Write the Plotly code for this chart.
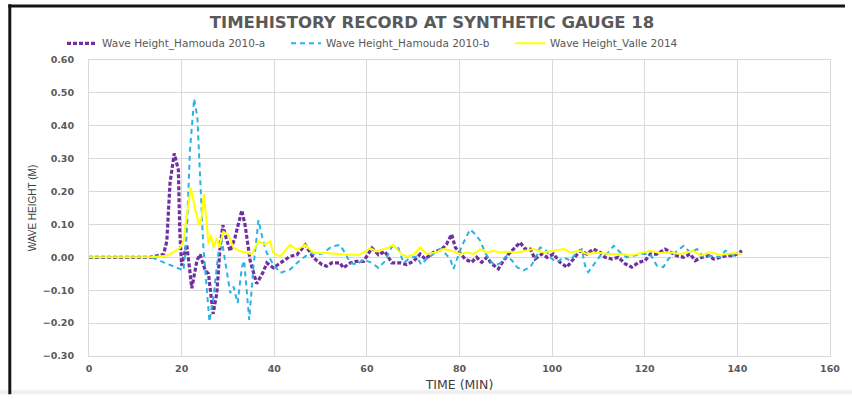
import plotly.graph_objects as go

# ---- data ----
time_a = [0, 13.2, 16.1, 16.8, 17.5, 18.4, 19.3, 19.6, 20.0, 21.1, 22.2, 23.3, 24.0, 25.1, 25.8, 26.8, 27.6, 28.3, 28.9, 29.6,
          30.5, 31.5, 33.0, 33.7, 34.8, 36.2, 37.6, 38.4, 39.8, 41.3, 43.4, 44.9, 46.7, 48.5, 50.3, 51.3, 52.4, 54.2, 54.9, 56.4,
          57.8, 59.3, 61.1, 62.5, 63.9, 65.4, 67.2, 68.6, 70.1, 71.5, 72.6, 74.4, 76.2, 77.2, 78.3, 79.1, 80.1, 81.2, 82.6, 83.7,
          84.8, 85.9, 87.0, 88.4, 89.5, 90.6, 92.0, 93.1, 94.2, 95.3, 96.3, 97.8, 98.9, 100.3, 101.7, 103.2, 104.6, 106.0, 107.5,
          108.9, 110.4, 111.4, 112.9, 114.3, 115.8, 117.2, 118.7, 120.1, 121.2, 122.6, 124.4, 125.5, 126.9, 128.4, 129.8, 130.9,
          132.3, 133.8, 134.9, 136.3, 137.7, 139.2, 141.0]
height_a = [0, 0, 0.009, 0.049, 0.227, 0.316, 0.266, 0.079, -0.025, 0.039, -0.094, -0.010, 0.009, -0.040, -0.050, -0.172,
            -0.109, 0.029, 0.098, 0.059, 0.019, 0.059, 0.143, 0.098, -0.010, -0.080, -0.045, -0.017, -0.032, -0.017, 0.003,
            0.008, 0.038, -0.002, -0.022, -0.027, -0.017, -0.017, -0.032, -0.017, -0.012, -0.012, 0.028, 0.008, 0.018, -0.017,
            -0.017, -0.022, -0.012, 0.010, -0.005, 0.015, 0.025, 0.040, 0.070, 0.030, 0.015, -0.005, -0.015, 0.000, -0.015,
            0.000, -0.020, -0.035, -0.010, 0.010, 0.030, 0.045, 0.025, 0.025, -0.005, 0.010, 0.000, 0.010, -0.015, -0.030,
            -0.005, 0.020, 0.010, 0.025, 0.015, 0.000, -0.005, 0.000, -0.020, -0.030, -0.015, -0.010, 0.010, 0.010, 0.025,
            0.015, 0.005, 0.000, 0.010, -0.010, 0.000, 0.005, -0.005, 0.000, 0.005, 0.005, 0.020]

time_b = [0, 13.5, 20.4, 21.1, 21.8, 22.7, 23.4, 24.0, 24.7, 25.4, 26.0, 26.9, 27.9, 28.6, 29.4, 30.5, 31.2, 32.1, 33.0, 33.5,
          34.1, 34.6, 35.5, 36.6, 37.6, 38.4, 39.8, 41.3, 43.4, 44.9, 46.7, 47.7, 49.2, 50.6, 52.4, 54.2, 55.3, 56.4, 57.8, 59.3,
          61.1, 62.5, 63.9, 65.4, 66.8, 67.9, 69.3, 70.8, 71.7, 72.9, 74.4, 75.8, 76.9, 78.0, 78.7, 79.4, 80.5, 82.3, 83.4, 84.5,
          85.5, 86.6, 87.7, 89.1, 90.2, 91.7, 92.4, 93.8, 95.3, 96.3, 97.4, 98.5, 99.6, 101.0, 102.5, 103.9, 105.3, 106.4, 107.1,
          107.8, 108.9, 110.4, 111.8, 113.3, 114.7, 116.1, 117.6, 119.0, 121.2, 122.6, 124.0, 125.1, 126.6, 128.4, 129.8, 131.3,
          132.7, 134.5, 136.3, 137.4, 138.5, 139.9]
height_b = [0, 0, -0.040, 0.069, 0.326, 0.482, 0.425, 0.227, 0.029, -0.090, -0.195, -0.119, 0.009, 0.059, -0.010, -0.109,
            -0.089, -0.139, -0.030, -0.010, -0.109, -0.190, -0.030, 0.113, 0.049, 0.013, -0.022, -0.047, -0.037, -0.017, 0.003,
            0.013, 0.008, 0.013, 0.033, 0.038, 0.013, -0.017, -0.022, -0.007, -0.017, -0.032, -0.012, 0.033, 0.028, -0.017,
            -0.002, 0.003, -0.022, -0.005, 0.010, 0.025, 0.012, -0.005, -0.035, -0.005, 0.035, 0.085, 0.070, 0.050, 0.015,
            -0.010, -0.025, -0.015, 0.005, -0.015, -0.030, -0.040, -0.030, -0.005, 0.030, 0.025, 0.000, -0.015, 0.000, -0.010,
            0.015, 0.025, -0.025, -0.045, -0.025, 0.005, 0.010, 0.035, 0.015, 0.000, 0.005, 0.010, 0.010, -0.025, -0.030,
            -0.005, 0.015, 0.035, 0.015, 0.025, 0.000, 0.005, 0.000, 0.020, 0.010, 0.000]

time_c = [0, 13.2, 16.8, 18.2, 19.7, 20.4, 21.1, 22.0, 22.9, 23.8, 24.3, 24.8, 25.4, 25.8, 26.3, 26.9, 27.6, 28.1, 29.0, 30.1,
          31.2, 32.6, 34.1, 35.1, 36.6, 38.0, 39.1, 39.8, 41.3, 43.4, 44.9, 46.7, 48.5, 51.3, 55.7, 58.5, 60.7, 62.1, 64.3, 65.7,
          67.2, 68.6, 70.1, 71.5, 72.9, 75.0, 76.5, 78.3, 80.1, 81.6, 83.0, 84.5, 85.9, 87.3, 88.8, 90.2, 92.4, 94.5, 96.0, 98.1,
          100.3, 102.5, 103.9, 106.0, 107.5, 109.6, 112.5, 115.4, 116.8, 119.0, 121.2, 123.3, 125.5, 127.7, 130.5, 132.0, 134.1,
          136.3, 139.2, 141.0]
height_c = [0, 0, 0.005, 0.015, 0.030, 0.049, 0.128, 0.212, 0.148, 0.098, 0.120, 0.192, 0.108, 0.040, 0.069, 0.029, 0.059,
            0.029, 0.078, 0.069, 0.029, 0.019, 0.014, 0.009, 0.049, 0.039, 0.049, 0.013, 0.003, 0.038, 0.023, 0.038, 0.013,
            0.013, 0.008, 0.008, 0.028, 0.018, 0.028, 0.038, 0.013, 0.003, 0.008, 0.030, 0.010, 0.015, 0.025, 0.020, 0.010,
            0.015, 0.010, 0.025, 0.015, 0.020, 0.015, 0.017, 0.015, 0.020, 0.025, 0.015, 0.020, 0.025, 0.015, 0.020, 0.010,
            0.015, 0.010, 0.010, 0.005, 0.013, 0.020, 0.013, 0.015, 0.010, 0.020, 0.005, 0.015, 0.007, 0.013, 0.010]

series_names = ["Wave Height_Hamouda 2010-a", "Wave Height_Hamouda 2010-b", "Wave Height_Valle 2014"]
title_text = "TIMEHISTORY RECORD AT SYNTHETIC GAUGE 18"
x_title = "TIME (MIN)"
y_title = "WAVE HEIGHT (M)"
x_ticks = [0, 20, 40, 60, 80, 100, 120, 140, 160]
y_ticks = [-0.3, -0.2, -0.1, 0.0, 0.1, 0.2, 0.3, 0.4, 0.5, 0.6]

# ---- figure ----
fig = go.Figure()
fig.add_trace(go.Scatter(x=time_a, y=height_a, mode="lines", name=series_names[0],
                         line=dict(color="#7030A0", width=3.2, dash="4px,2px")))
fig.add_trace(go.Scatter(x=time_b, y=height_b, mode="lines", name=series_names[1],
                         line=dict(color="#29B2E6", width=2, dash="5px,4px")))
fig.add_trace(go.Scatter(x=time_c, y=height_c, mode="lines", name=series_names[2],
                         line=dict(color="#FFFF00", width=2)))

W, H = 852, 401
L, R, T, B = 89, 22, 60, 39
pw, ph = W - L - R, H - T - B

def px_x(v):
    return (v - L) / pw

def px_y(v):
    return (H - B - v) / ph

axis_font = dict(family="DejaVu Sans", size=9.5, color="#595959", weight="bold")
grid = "#D9D9D9"

fig.update_layout(
    width=W, height=H,
    margin=dict(l=L, r=R, t=T, b=B, pad=0),
    paper_bgcolor="white", plot_bgcolor="white",
    title=dict(text=title_text, x=432 / W, xref="container", xanchor="center",
               y=1 - 22 / H, yref="container", yanchor="middle",
               font=dict(family="DejaVu Sans", size=16.5, color="#595959", weight="bold")),
    legend=dict(orientation="h", x=px_x(62), xanchor="left", y=px_y(43), yanchor="middle",
                font=dict(family="DejaVu Sans", size=10.5, color="#595959"),
                bgcolor="rgba(0,0,0,0)", itemwidth=30, entrywidth=179, traceorder="normal"),
    xaxis=dict(range=[0, 160], tickvals=x_ticks, showgrid=True, gridcolor=grid, gridwidth=1,
               zeroline=False, showline=True, mirror=True, linecolor=grid, linewidth=1,
               ticks="", tickfont=axis_font, ticklabelstandoff=4,
               title=dict(text=x_title, standoff=6,
                          font=dict(family="DejaVu Sans", size=12.5, color="#404040"))),
    yaxis=dict(range=[-0.3, 0.6], tickvals=y_ticks, tickformat=".2f", showgrid=True, gridcolor=grid,
               gridwidth=1, zeroline=False, showline=True, mirror=True, linecolor=grid, linewidth=1,
               ticks="", tickfont=axis_font, ticklabelstandoff=12,
               title=dict(text=y_title, standoff=4,
                          font=dict(family="Liberation Sans", size=10, color="#404040"))),
    shapes=[
        dict(type="rect", xref="paper", yref="paper", x0=px_x(0), x1=px_x(W), y0=px_y(H), y1=px_y(397),
             fillcolor="#EFEFEF", line=dict(width=0), layer="below"),
        dict(type="rect", xref="paper", yref="paper", x0=px_x(8.3), x1=px_x(11.3), y0=px_y(3), y1=px_y(H),
             fillcolor="#151515", line=dict(width=0)),
        dict(type="line", xref="paper", yref="paper", x0=px_x(8.3), x1=px_x(845), y0=px_y(5), y1=px_y(5),
             line=dict(color="#151515", width=3)),
    ],
)

fig.write_html("out.html",
               config={"displayModeBar": False},
               post_script="document.body.style.margin='0px';document.body.style.overflow='hidden';")
